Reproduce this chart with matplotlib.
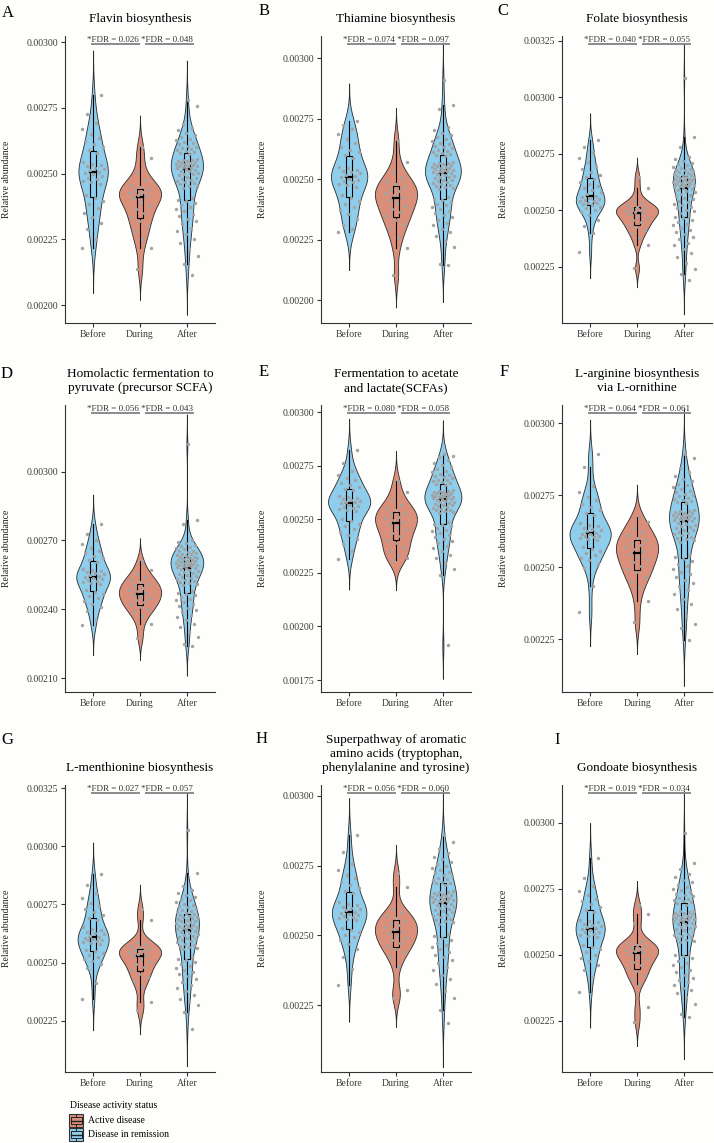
import numpy as np
import matplotlib
matplotlib.use("Agg")
import matplotlib.pyplot as plt
from matplotlib.patches import Rectangle
from matplotlib.font_manager import FontProperties

plt.rcParams['font.family'] = ['Liberation Serif', 'DejaVu Serif']

groups = ['Before', 'During', 'After']
letters = ['A', 'B', 'C', 'D', 'E', 'F', 'G', 'H', 'I']
titles = ['Flavin biosynthesis', 'Thiamine biosynthesis', 'Folate biosynthesis',
          'Homolactic fermentation to\npyruvate (precursor SCFA)',
          'Fermentation to acetate\nand lactate(SCFAs)',
          'L-arginine biosynthesis\nvia L-ornithine',
          'L-menthionine biosynthesis',
          'Superpathway of aromatic\namino acids (tryptophan,\nphenylalanine and tyrosine)',
          'Gondoate biosynthesis']
fdr_before_during = ['0.026', '0.074', '0.040', '0.056', '0.080', '0.064', '0.027', '0.056', '0.019']
fdr_during_after = ['0.048', '0.097', '0.055', '0.043', '0.058', '0.061', '0.057', '0.060', '0.034']

# relative abundance, units of 1e-6 (sorted)
flavin_before = [2216, 2252, 2288, 2313, 2335, 2352, 2368, 2383, 2396, 2409, 2420, 2460, 2467, 2473, 2479, 2485, 2491, 2497, 2503, 2507, 2512, 2518, 2522, 2527, 2533, 2538, 2544, 2579, 2589, 2600, 2611, 2624, 2637, 2652, 2671, 2694, 2725, 2798]
flavin_during = [2139, 2219, 2253, 2280, 2300, 2319, 2335, 2350, 2365, 2379, 2392, 2406, 2414, 2420, 2425, 2430, 2435, 2441, 2448, 2458, 2474, 2505, 2558, 2602]
flavin_after = [2114, 2158, 2187, 2214, 2235, 2253, 2269, 2283, 2295, 2308, 2319, 2329, 2338, 2347, 2356, 2365, 2372, 2379, 2388, 2395, 2401, 2408,
                2446, 2451, 2454, 2459, 2463, 2468, 2472, 2476, 2481, 2484, 2488, 2493, 2497, 2500, 2504, 2508, 2511, 2515,
                2519, 2521, 2523, 2525, 2527, 2529, 2530, 2533, 2535, 2537, 2539, 2541, 2544, 2546, 2548, 2551, 2553, 2555,
                2575, 2579, 2581, 2585, 2590, 2593, 2597, 2602, 2606, 2611, 2616, 2621, 2627, 2633, 2639, 2647, 2655, 2664, 2675, 2689, 2757, 2779]

thiamine_before = [2281, 2292, 2311, 2334, 2354, 2370, 2385, 2398, 2410, 2422, 2432, 2469, 2475, 2481, 2486, 2492, 2497, 2502, 2508, 2512, 2518, 2523, 2528, 2533, 2539, 2545, 2551, 2587, 2598, 2610, 2621, 2634, 2649, 2665, 2684, 2708, 2725, 2738]
thiamine_during = [2105, 2215, 2262, 2295, 2314, 2332, 2348, 2362, 2377, 2390, 2402, 2415, 2425, 2434, 2442, 2450, 2460, 2469, 2479, 2491, 2504, 2527, 2569, 2658]
thiamine_after = [2146, 2149, 2219, 2244, 2264, 2280, 2295, 2308, 2320, 2331, 2341, 2351, 2359, 2368, 2376, 2384, 2391, 2397, 2406, 2412, 2417, 2424,
                  2459, 2464, 2468, 2472, 2475, 2480, 2484, 2489, 2491, 2495, 2498, 2503, 2507, 2510, 2514, 2517, 2521, 2524,
                  2527, 2530, 2532, 2534, 2537, 2539, 2541, 2544, 2546, 2548, 2551, 2554, 2556, 2560, 2562, 2565, 2567, 2570,
                  2595, 2599, 2603, 2607, 2613, 2617, 2621, 2627, 2633, 2638, 2644, 2650, 2657, 2665, 2673, 2681, 2691, 2702, 2716, 2790, 2807, 2910]

folate_before = [2317, 2398, 2431, 2458, 2479, 2494, 2503, 2510, 2516, 2521, 2526, 2530, 2534, 2539, 2543, 2547, 2550, 2554, 2558, 2564, 2573, 2582, 2590, 2599, 2608, 2617, 2627, 2636, 2646, 2658, 2670, 2683, 2697, 2712, 2732, 2755, 2781, 2811]
folate_during = [2243, 2347, 2378, 2400, 2413, 2426, 2436, 2446, 2456, 2465, 2474, 2483, 2489, 2493, 2497, 2501, 2506, 2511, 2516, 2522, 2530, 2547, 2597, 2649]
folate_after = [2192, 2218, 2239, 2268, 2292, 2311, 2328, 2344, 2357, 2371, 2383, 2394, 2404, 2414, 2423, 2433, 2441, 2449, 2458, 2466, 2472, 2480, 2487, 2495, 2501, 2509, 2515, 2522, 2528, 2536, 2542, 2548, 2553, 2561, 2567, 2573, 2579, 2584, 2590, 2596,
                2602, 2604, 2606, 2609, 2611, 2613, 2616, 2619, 2621, 2624, 2626, 2629, 2632, 2635, 2637, 2640, 2643, 2646, 2649, 2652, 2655, 2658, 2662, 2665, 2668, 2672, 2676, 2680, 2684, 2688, 2693, 2699, 2704, 2711, 2718, 2726, 2735, 2781, 2826, 3084]

homolactic_before = [2331, 2353, 2393, 2410, 2425, 2437, 2448, 2458, 2467, 2476, 2484, 2511, 2516, 2520, 2524, 2528, 2532, 2536, 2540, 2544, 2549, 2553, 2557, 2561, 2566, 2570, 2576, 2605, 2614, 2623, 2633, 2644, 2655, 2668, 2684, 2704, 2730, 2770]
homolactic_during = [2276, 2335, 2372, 2388, 2400, 2412, 2422, 2431, 2440, 2448, 2456, 2464, 2471, 2479, 2486, 2493, 2501, 2509, 2518, 2528, 2539, 2554, 2572, 2612]
homolactic_after = [2242, 2247, 2278, 2302, 2322, 2338, 2353, 2366, 2377, 2389, 2398, 2408, 2416, 2425, 2433, 2441, 2447, 2454, 2462, 2469, 2473, 2480,
                    2505, 2510, 2514, 2519, 2523, 2529, 2533, 2538, 2542, 2546, 2550, 2554, 2558, 2562, 2566, 2570, 2574, 2578,
                    2582, 2585, 2587, 2589, 2591, 2593, 2595, 2598, 2600, 2602, 2604, 2607, 2609, 2612, 2614, 2617, 2619, 2622, 2625, 2628,
                    2630, 2633, 2636, 2639, 2642, 2646, 2649, 2653, 2656, 2661, 2665, 2670, 2675, 2680, 2687, 2694, 2702, 2770, 2791, 3118]

acetate_before = [2316, 2352, 2384, 2407, 2426, 2441, 2455, 2468, 2480, 2491, 2501, 2537, 2543, 2549, 2554, 2560, 2564, 2569, 2575, 2579, 2583, 2587, 2591, 2595, 2599, 2603, 2608, 2635, 2643, 2652, 2661, 2671, 2682, 2694, 2709, 2726, 2761, 2826]
acetate_during = [2309, 2318, 2335, 2350, 2370, 2390, 2406, 2422, 2437, 2451, 2464, 2479, 2489, 2497, 2505, 2513, 2523, 2532, 2542, 2554, 2566, 2589, 2630, 2679]
acetate_after = [1912, 2242, 2270, 2297, 2318, 2335, 2351, 2365, 2377, 2389, 2400, 2410, 2419, 2428, 2437, 2445, 2452, 2459, 2468, 2475, 2480, 2487,
                 2529, 2534, 2538, 2542, 2546, 2550, 2553, 2558, 2561, 2565, 2568, 2573, 2576, 2579, 2583, 2587, 2590, 2593,
                 2597, 2599, 2601, 2603, 2605, 2607, 2609, 2612, 2614, 2616, 2618, 2621, 2623, 2626, 2628, 2631, 2633, 2635,
                 2661, 2665, 2668, 2673, 2678, 2682, 2686, 2692, 2697, 2702, 2707, 2714, 2720, 2727, 2735, 2743, 2752, 2763, 2776, 2791, 2798, 2806]

arginine_before = [2344, 2433, 2497, 2512, 2524, 2533, 2542, 2550, 2557, 2564, 2571, 2593, 2598, 2601, 2604, 2608, 2610, 2614, 2617, 2620, 2625, 2630, 2634, 2638, 2643, 2648, 2652, 2682, 2690, 2700, 2710, 2721, 2732, 2745, 2762, 2781, 2850, 2894]
arginine_during = [2309, 2384, 2432, 2452, 2467, 2482, 2494, 2505, 2517, 2527, 2537, 2547, 2555, 2563, 2570, 2577, 2585, 2593, 2602, 2612, 2623, 2638, 2656, 2676]
arginine_after = [2248, 2289, 2301, 2330, 2354, 2373, 2390, 2406, 2419, 2433, 2445, 2456, 2466, 2476, 2485, 2495, 2503, 2511, 2520, 2528, 2534, 2542,
                  2588, 2593, 2597, 2602, 2606, 2611, 2615, 2620, 2624, 2628, 2631, 2636, 2640, 2644, 2648, 2651, 2655, 2659,
                  2663, 2665, 2667, 2669, 2671, 2673, 2675, 2677, 2679, 2681, 2682, 2685, 2687, 2690, 2692, 2694, 2696, 2699,
                  2723, 2727, 2730, 2734, 2738, 2742, 2746, 2751, 2756, 2761, 2766, 2772, 2778, 2785, 2791, 2799, 2808, 2818, 2830, 2844, 2881, 2892]

methionine_before = [2345, 2413, 2477, 2493, 2506, 2516, 2525, 2534, 2542, 2549, 2556, 2578, 2583, 2587, 2591, 2595, 2598, 2602, 2606, 2610, 2616, 2622, 2627, 2632, 2638, 2644, 2651, 2683, 2693, 2704, 2716, 2729, 2743, 2758, 2777, 2800, 2832, 2880]
methionine_during = [2295, 2330, 2397, 2420, 2437, 2453, 2467, 2480, 2492, 2504, 2515, 2527, 2534, 2539, 2544, 2549, 2554, 2559, 2565, 2572, 2579, 2587, 2684, 2732]
methionine_after = [2216, 2287, 2318, 2337, 2342, 2360, 2377, 2392, 2405, 2418, 2430, 2441, 2450, 2459, 2469, 2478, 2486, 2493, 2502, 2510, 2516, 2523,
                    2558, 2563, 2567, 2573, 2577, 2582, 2587, 2592, 2597, 2601, 2605, 2611, 2615, 2619, 2623, 2627, 2632, 2636,
                    2641, 2644, 2647, 2650, 2653, 2656, 2659, 2663, 2667, 2670, 2673, 2677, 2680, 2684, 2687, 2691, 2694, 2698, 2702, 2706,
                    2709, 2713, 2719, 2723, 2727, 2732, 2737, 2742, 2747, 2753, 2759, 2767, 2774, 2782, 2791, 2801, 2813, 2829, 2883, 3069]

aromatic_before = [2322, 2380, 2421, 2450, 2469, 2482, 2493, 2502, 2511, 2519, 2527, 2554, 2558, 2562, 2566, 2570, 2573, 2577, 2581, 2585, 2590, 2594, 2599, 2603, 2608, 2613, 2618, 2650, 2659, 2670, 2680, 2691, 2704, 2718, 2735, 2755, 2800, 2860]
aromatic_during = [2274, 2304, 2385, 2421, 2439, 2451, 2462, 2472, 2482, 2491, 2499, 2508, 2515, 2523, 2529, 2537, 2545, 2553, 2562, 2571, 2582, 2596, 2672, 2722]
aromatic_after = [2187, 2234, 2275, 2302, 2324, 2343, 2359, 2374, 2387, 2400, 2411, 2422, 2431, 2440, 2450, 2459, 2466, 2473, 2483, 2490, 2496, 2503,
                  2542, 2547, 2551, 2556, 2560, 2565, 2569, 2574, 2578, 2582, 2586, 2591, 2595, 2598, 2603, 2606, 2610, 2614,
                  2618, 2620, 2622, 2624, 2627, 2629, 2631, 2634, 2636, 2638, 2640, 2643, 2646, 2649, 2651, 2654, 2656, 2659,
                  2681, 2686, 2689, 2693, 2698, 2702, 2706, 2712, 2717, 2722, 2727, 2733, 2740, 2747, 2754, 2763, 2772, 2782, 2795, 2810, 2833, 2860]

gondoate_before = [2358, 2416, 2442, 2461, 2476, 2489, 2500, 2511, 2520, 2529, 2538, 2567, 2571, 2576, 2580, 2585, 2588, 2593, 2597, 2601, 2606, 2610, 2614, 2618, 2623, 2628, 2633, 2663, 2671, 2681, 2691, 2702, 2713, 2726, 2743, 2762, 2789, 2865]
gondoate_during = [2247, 2302, 2390, 2409, 2424, 2438, 2450, 2461, 2473, 2483, 2492, 2502, 2509, 2514, 2518, 2523, 2528, 2533, 2538, 2544, 2551, 2619, 2654, 2687]
gondoate_after = [2263, 2277, 2312, 2339, 2355, 2366, 2376, 2386, 2395, 2404, 2413, 2425, 2434, 2444, 2453, 2462, 2470, 2477, 2487, 2494, 2500, 2507,
                  2547, 2552, 2556, 2562, 2566, 2571, 2575, 2580, 2584, 2588, 2592, 2597, 2601, 2605, 2609, 2613, 2617, 2621,
                  2625, 2627, 2630, 2632, 2634, 2636, 2638, 2642, 2644, 2646, 2648, 2652, 2654, 2657, 2659, 2662, 2664, 2667,
                  2690, 2695, 2698, 2702, 2707, 2712, 2716, 2721, 2727, 2732, 2737, 2744, 2750, 2758, 2765, 2774, 2783, 2794, 2807, 2823, 2847, 2962]

panel_data = [
    (flavin_before, flavin_during, flavin_after),
    (thiamine_before, thiamine_during, thiamine_after),
    (folate_before, folate_during, folate_after),
    (homolactic_before, homolactic_during, homolactic_after),
    (acetate_before, acetate_during, acetate_after),
    (arginine_before, arginine_during, arginine_after),
    (methionine_before, methionine_during, methionine_after),
    (aromatic_before, aromatic_during, aromatic_after),
    (gondoate_before, gondoate_during, gondoate_after),
]

y_limits = [(1932, 3023), (1905, 3091), (2001, 3271), (2040, 3290), (1694, 3034),
            (2066, 3064), (2030, 3263), (2010, 3039), (2056, 3143)]
y_ticks = [[2000, 2250, 2500, 2750, 3000], [2000, 2250, 2500, 2750, 3000],
           [2250, 2500, 2750, 3000, 3250], [2100, 2400, 2700, 3000],
           [1750, 2000, 2250, 2500, 2750, 3000], [2250, 2500, 2750, 3000],
           [2250, 2500, 2750, 3000, 3250], [2250, 2500, 2750, 3000],
           [2250, 2500, 2750, 3000]]

BLUE = '#8ECDEC'
SALMON = '#DA8F7A'
fills = [BLUE, SALMON, BLUE]
W, H = 714, 1143
FONT = 'Liberation Serif'


def nrd0(x):
    sd = x.std(ddof=1)
    q75, q25 = np.percentile(x, [75, 25])
    return 0.9 * min(sd, (q75 - q25) / 1.34) * len(x) ** -0.2


def kde(x):
    bw = nrd0(x)
    grid = np.linspace(x.min() - 3 * bw, x.max() + 3 * bw, 512)
    d = np.exp(-0.5 * ((grid[:, None] - x[None, :]) / bw) ** 2).sum(1)
    return grid, d / (len(x) * bw * np.sqrt(2 * np.pi))


fig = plt.figure(figsize=(W / 100, H / 100), dpi=100, facecolor='#FEFEFC')

rows = [(36, 323), (405, 692), (785, 1072)]
cols = [65, 321, 562]
label_pos = [(2, 13), (259, 11), (497, 11), (1, 374), (259, 372), (500, 372),
             (1, 740), (256, 739), (554, 740)]

axes = []
for k in range(9):
    top, bot = rows[k // 3]
    left = cols[k % 3]
    ax = fig.add_axes([left / W, 1 - bot / H, 150 / W, (bot - top) / H])
    ax.set_facecolor('none')
    axes.append(ax)
    vals = [np.array(v, dtype=float) * 1e-6 for v in panel_data[k]]
    dens = [kde(v) for v in vals]
    dmax = max(d.max() for _, d in dens)
    for i, (v, (g, d)) in enumerate(zip(vals, dens)):
        pos = i + 1
        half = d / dmax * 0.45
        ax.fill_betweenx(g, pos - half, pos + half, facecolor=fills[i],
                         edgecolor='#2A2A2A', lw=0.6, zorder=1)
        q1, med, q3 = np.percentile(v, [25, 50, 75])
        iqr = q3 - q1
        lo = v[v >= q1 - 1.5 * iqr].min()
        hi = v[v <= q3 + 1.5 * iqr].max()
        ax.plot([pos, pos], [lo, q1], color='black', lw=0.8, zorder=2)
        ax.plot([pos, pos], [q3, hi], color='black', lw=0.8, zorder=2)
        ax.add_patch(Rectangle((pos - 0.06, q1), 0.12, q3 - q1, facecolor=fills[i],
                               edgecolor='black', lw=0.8, zorder=2))
        ax.plot([pos - 0.06, pos + 0.06], [med, med], color='black', lw=1.6, zorder=2)
        jit = ((np.arange(len(v)) * 0.618034 + 0.37 * i) % 1 - 0.5) * 0.48
        ax.scatter(pos + jit, v, s=6, color='#A3A3A3', lw=0, zorder=3)

    ax.set_xlim(0.4, 3.6)
    ax.set_ylim(y_limits[k][0] * 1e-6, y_limits[k][1] * 1e-6)
    ax.set_xticks([1, 2, 3])
    ax.set_xticklabels(groups)
    ax.set_yticks([t * 1e-6 for t in y_ticks[k]])
    ax.set_yticklabels(['%.5f' % (t * 1e-6) for t in y_ticks[k]])
    for s in ['top', 'right']:
        ax.spines[s].set_visible(False)
    for s in ['left', 'bottom']:
        ax.spines[s].set_color('#333333')
        ax.spines[s].set_linewidth(0.8)
    ax.tick_params(length=2.8, width=0.8, color='#333333', labelsize=7,
                   labelcolor='#3A3A3A', pad=2)
    ax.set_ylabel('Relative abundance', fontsize=7, color='#222222')
    ax.yaxis.set_label_coords(-0.36, 0.5)
    ax.text(0.5, 1 + 11 / (bot - top), titles[k], transform=ax.transAxes,
            ha='center', va='bottom', fontsize=9.5, linespacing=1.2)
    lx, ly = label_pos[k]
    fig.text(lx / W, 1 - ly / H, letters[k], fontsize=12, ha='left', va='center')

# FDR annotations with underlined parts
fdr_fs = 6.5
prop = FontProperties(family=FONT, size=fdr_fs)
fig.canvas.draw()
renderer = fig.canvas.get_renderer()


def twidth(s):
    return renderer.get_text_width_height_descent(s, prop, ismath=False)[0]


for k, ax in enumerate(axes):
    top, bot = rows[k // 3]
    hgt = bot - top
    a = 'FDR = ' + fdr_before_during[k]
    b = 'FDR = ' + fdr_during_after[k]
    full = '*' + a + ' *' + b
    ax.text(2, 1 - 6 / hgt, full, transform=ax.get_xaxis_transform(), ha='center',
            va='baseline', fontproperties=prop, color='#333333', zorder=5)
    cx = ax.transData.transform((2, 0))[0]
    x0 = cx - twidth(full) / 2
    segs = [(x0 + twidth('*'), x0 + twidth('*' + a)),
            (x0 + twidth('*' + a + ' *'), x0 + twidth(full))]
    inv = ax.transData.inverted()
    for s0, s1 in segs:
        d0 = inv.transform((s0, 0))[0]
        d1 = inv.transform((s1, 0))[0]
        ax.plot([d0, d1], [1 - 7.8 / hgt] * 2, transform=ax.get_xaxis_transform(),
                color='#8A8A8A', lw=1.4, clip_on=False, zorder=5)

# legend
fig.text(70 / W, 1 - 1105 / H, 'Disease activity status', fontsize=7, ha='left', va='center')
for j, (lab, col) in enumerate([('Active disease', SALMON), ('Disease in remission', BLUE)]):
    ky = 1114 + j * 14
    kx = 69
    kw, kh = 14, 13
    fig.patches.append(Rectangle((kx / W, 1 - (ky + kh) / H), kw / W, kh / H,
                                 transform=fig.transFigure, facecolor=col,
                                 edgecolor='#333333', lw=0.8))
    fig.patches.append(Rectangle(((kx + 1.5) / W, 1 - (ky + kh * 0.75) / H), (kw - 3) / W,
                                 kh * 0.5 / H, transform=fig.transFigure, facecolor=col,
                                 edgecolor='#222222', lw=0.7))
    fig.lines.append(plt.Line2D([(kx + 1.5) / W, (kx + kw - 1.5) / W],
                                [1 - (ky + kh / 2) / H] * 2, transform=fig.transFigure,
                                color='#222222', lw=1.0))
    fig.lines.append(plt.Line2D([(kx + kw / 2) / W] * 2, [1 - ky / H, 1 - (ky + kh * 0.25) / H],
                                transform=fig.transFigure, color='#222222', lw=0.7))
    fig.lines.append(plt.Line2D([(kx + kw / 2) / W] * 2,
                                [1 - (ky + kh * 0.75) / H, 1 - (ky + kh) / H],
                                transform=fig.transFigure, color='#222222', lw=0.7))
    fig.text(88 / W, 1 - (ky + kh / 2) / H, lab, fontsize=7, ha='left', va='center')

fig.savefig('out.png', dpi=100, facecolor=fig.get_facecolor())
